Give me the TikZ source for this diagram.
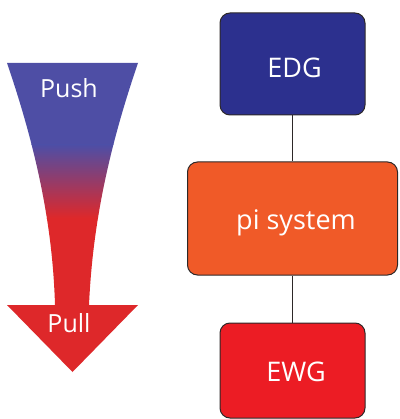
\documentclass[tikz,border=0pt]{standalone}
\usepackage{fontspec}
\setmainfont{Open Sans}
\definecolor{pushblue}{RGB}{78,78,165}
\definecolor{pullred}{RGB}{222,40,42}
\definecolor{edgblue}{RGB}{44,48,142}
\definecolor{piorange}{RGB}{240,90,40}
\definecolor{ewgred}{RGB}{236,28,36}
\definecolor{edgeline}{RGB}{45,40,40}
\tikzset{
  box/.style={draw=edgeline, line width=1pt, rounded corners=10pt, inner sep=0pt},
  boxtxt/.style={text=white, font=\fontsize{27}{32}\selectfont, inner sep=0pt, anchor=base},
  lbl/.style={text=white, font=\fontsize{25}{30}\selectfont, inner sep=0pt, anchor=base},
  link/.style={draw=edgeline, line width=1pt}
}
\begin{document}
\begin{tikzpicture}[x=1pt,y=-1pt]
\useasboundingbox (0,0) rectangle (399,419);
% gradient arrow
\begin{scope}
  \clip (7,63) -- (138,63) .. controls (103,165) and (92,240) .. (89,305)
     -- (138,305) -- (72.5,372) -- (7,305) -- (55,305)
     .. controls (53,240) and (42,165) .. (7,63) -- cycle;
  \fill[pushblue] (0,60) rectangle (150,145);
  \shade[top color=pushblue, bottom color=pullred] (0,145) rectangle (150,218);
  \fill[pullred] (0,218) rectangle (150,380);
\end{scope}
\node[lbl] (push) at (69,98) {Push};
\node[lbl] (pull) at (69,332) {Pull};
% boxes
\node[box, fill=edgblue, minimum width=145pt, minimum height=102pt] (edg) at (292.5,64) {};
\node[box, fill=piorange, minimum width=210pt, minimum height=113pt] (pi) at (292.5,218.5) {};
\node[box, fill=ewgred, minimum width=145pt, minimum height=95pt] (ewg) at (292.5,370.5) {};
\node[boxtxt] (edgt) at (294.5,78) {EDG};
\node[boxtxt] (pit) at (296,229) {pi system};
\node[boxtxt] (ewgt) at (296,381) {EWG};
\draw[link] (edg.south) -- (pi.north);
\draw[link] (pi.south) -- (ewg.north);
\end{tikzpicture}
\end{document}
